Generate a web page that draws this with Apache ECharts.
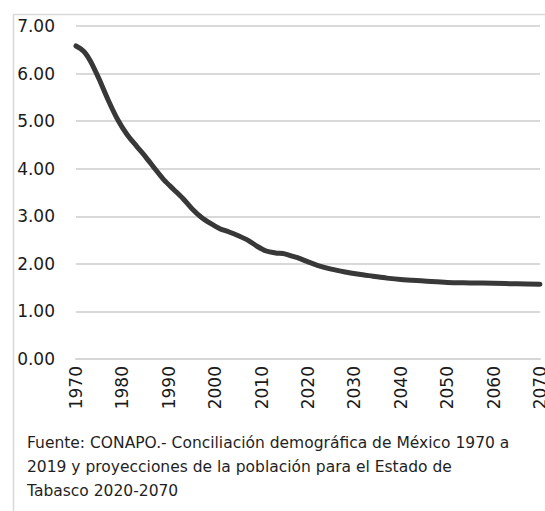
<!DOCTYPE html>
<html>
<head>
<meta charset="utf-8">
<script src="https://cdn.jsdelivr.net/npm/echarts@6/dist/echarts.min.js"></script>
<style>
  html, body { margin: 0; padding: 0; background: #fff; }
  #myChart { width: 545px; height: 511px; }
</style>
</head>
<body>
<div id="myChart"></div>
<script>
  // años
  var years = [1970, 1971, 1972, 1973, 1974, 1975, 1977, 1979, 1981, 1983, 1985, 1987, 1989, 1991, 1993, 1995,
    1997, 1999, 2001, 2003, 2005, 2007, 2009, 2011, 2013, 2015, 2017, 2018, 2020, 2022, 2025, 2028, 2031,
    2034, 2037, 2040, 2045, 2050, 2055, 2060, 2065, 2070];
  // tasa global de fecundidad
  var tgf = [6.58, 6.52, 6.43, 6.28, 6.09, 5.88, 5.43, 5.03, 4.72, 4.48, 4.25, 4.00, 3.76, 3.57, 3.38, 3.16,
    2.98, 2.85, 2.74, 2.67, 2.59, 2.50, 2.37, 2.27, 2.23, 2.21, 2.15, 2.12, 2.04, 1.97, 1.89, 1.83, 1.78,
    1.74, 1.70, 1.67, 1.64, 1.61, 1.60, 1.59, 1.58, 1.57];
  var fuente = [
    'Fuente: CONAPO.- Conciliación demográfica de México 1970 a',
    '2019 y proyecciones de la población para el Estado de',
    'Tabasco 2020-2070'
  ];

  var font = '"DejaVu Sans", sans-serif';
  var myChart = echarts.init(document.getElementById('myChart'), null, {renderer: 'svg'});
  myChart.setOption({
    animation: false,
    grid: {left: 76, right: 5, top: 26, bottom: 152, outerBoundsMode: 'none'},
    graphic: [
      {
        type: 'rect', left: 11, top: 12, silent: true,
        shape: {width: 600, height: 600},
        style: {fill: 'none', stroke: '#d9d9d9', lineWidth: 1.5}
      },
      {
        type: 'text', left: 27, top: 431,
        style: {text: fuente.join('\n'), font: '15.5px ' + font, fill: '#1f1f1f', lineHeight: 24}
      }
    ],
    xAxis: {
      type: 'value',
      min: 1970, max: 2070, interval: 10,
      axisLine: {lineStyle: {color: '#d6d6d6', width: 2}},
      axisTick: {show: false},
      splitLine: {show: false},
      axisLabel: {
        rotate: 90, margin: 7,
        color: '#1a1a1a', fontSize: 17, fontFamily: font,
        formatter: function (v) { return String(v); }
      }
    },
    yAxis: {
      type: 'value',
      min: 0, max: 7, interval: 1,
      axisLine: {show: false},
      axisTick: {show: false},
      splitLine: {lineStyle: {color: '#d9d9d9', width: 2}},
      axisLabel: {
        margin: 21, color: '#1a1a1a', fontSize: 17, fontFamily: font,
        formatter: function (v) { return v.toFixed(2); }
      }
    },
    series: [{
      type: 'line',
      data: years.map(function (y, i) { return [y, tgf[i]]; }),
      smooth: 0.3,
      symbol: 'none',
      lineStyle: {color: '#383838', width: 5, cap: 'round'}
    }]
  });
</script>
</body>
</html>
